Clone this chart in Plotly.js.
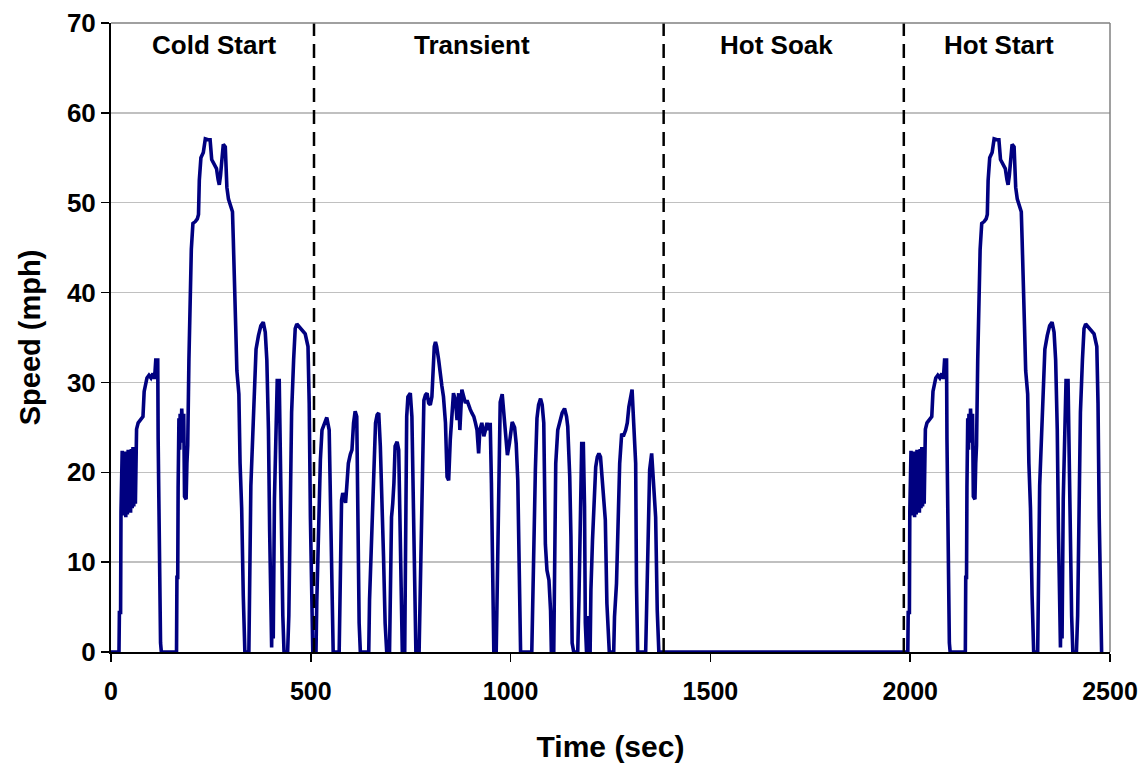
<!DOCTYPE html>
<html>
<head>
<meta charset="utf-8">
<script src="https://cdn.plot.ly/plotly-3.0.1.min.js"></script>
<style>html,body{margin:0;padding:0;background:#fff;}#chart{width:1146px;height:764px;}</style>
</head>
<body>
<div id="chart"></div>
<script>
// Cold start phase (seconds, mph)
const coldTime = [0,20,21,24,25,27,28,29,31,33,35,37,39,41,43,45,47,49,51,53,55,57,59,61,63,64,68,75,80,83,86,90,95,100,105,109,112,117,118,120,124,126,
  164,165,167,168,170,172,173,175,177,180,182,184,188,190,192,195,199,201,205,211,216,219,221,225,231,236,243,248,252,258,264,268,271,274,278,281,286,288,290,294,300,304,306,308,312,315,320,323,327,331,335,
  345,347,350,355,359,363,369,375,381,386,390,394,397,400,402,404,406,409,412,416,421,424,427,430,433,
  442,445,448,452,457,461,465,474,486,493,496,499,502,505,507];
const coldSpeed = [0,0,4.4,4.4,15.6,21.2,22.4,15.5,21.5,15.2,22.3,15,21.8,15.3,22.5,15.8,22.0,15.5,22.6,16,22.8,16.2,22.5,16.5,23,24.8,25.5,26,26.2,29,29.8,30.5,30.8,30.5,31,30.4,32.5,32.5,23.7,13.6,1,0,
  0,8.3,8.3,18.3,26,22.5,26.5,23.3,27.1,24,26.5,17.3,17,21,23,32.5,40.2,44.8,47.7,47.9,48.2,48.7,52.5,55,55.6,57.1,57.0,57,54.8,54.2,53.8,52.6,52.0,53,55.6,56.5,56.2,54.2,51.7,50.4,49.4,49,46,41.2,36.3,31.3,28.7,21,16,6.3,0,
  0,5.8,18.5,24.4,30.2,33.7,35.2,36.3,36.7,35.6,32.5,24.8,13.5,1,0.5,8,1.5,17,24.8,30.2,30.2,20,10.2,4,0,
  0,4,14.8,26.7,32.5,36,36.5,36,35.4,34,27.7,15,4,0,0];

// Transient phase
const transTime = [513,515,518,521,524,528,532,536,540,546,549,553,556,571,573,575,577,580,584,587,590,594,599,603,607,611,615,618,621,624,
  645,647,651,656,659,662,666,670,674,678,682,686,690,697,699,702,705,708,711,716,720,722,726,729,735,737,740,743,749,753,757,760,763,
  771,774,777,780,783,787,791,795,799,803,806,809,812,815,820,824,828,832,837,841,845,849,853,857,862,866,870,873,878,883,887,891,895,899,903,908,912,916,920,923,928,933,937,941,945,949,952,955,958,
  964,966,970,974,979,984,989,992,997,1004,1010,1014,1018,1022,1025,1053,1058,1062,1066,1070,1075,1079,1083,1085,1087,1091,1096,1100,1102,
  1108,1110,1113,1118,1123,1129,1135,1140,1143,1148,1151,1154,1158,1168,1171,1175,1178,1182,1185,1187,1190,1193,1195,1199,1201,1205,1209,1213,1217,1221,1225,1229,1233,1237,1241,1245,1247,
  1258,1260,1265,1269,1273,1278,1282,1288,1292,1296,1300,1304,1308,1313,1315,1318,1338,1340,1344,1348,1353,1358,1363,1367,1371,1383];
const transSpeed = [0,5.6,11,18,21.4,24.7,25.2,25.9,26.1,24.7,18,5,0,0,5,13.2,16.9,17.7,17.2,16.6,18.4,21,22,22.5,25.5,26.8,26.2,11.3,3.2,0,
  0,5.8,11,18,22.5,25.5,26.4,26.6,22.9,18,10.6,3.2,0,0,7.6,15,16.5,18.8,22.9,23.4,22.5,16.5,7.6,0,0,16.2,26.2,28.4,28.8,26.2,16.5,6.9,0,
  0,6,13.6,22,28,28.6,28.8,27.7,27.5,28.4,31.4,34,34.5,34,32.5,30.7,29.6,28.4,25.5,19.5,19.1,23.6,27,28.8,28,25.8,28.8,24.7,29.2,28.4,27.7,28,27.3,27,26.6,26.2,25.5,24.7,22.1,24.7,25.5,24,24.7,25.5,24.7,25.5,18.8,6.1,0,
  0,6.2,17.8,27.8,28.7,25.8,22.9,21.9,23.2,25.6,25,23.2,19.1,6.5,0,0,14,20.3,26,27.5,28.2,27.5,25.5,19.5,12,9.1,8,4.6,0,
  0,13.9,21,24.7,25.5,26.6,27.1,26.2,25.1,19.5,12.8,1,0,0,5.8,18,23.2,23.2,16.2,3.2,0,4,0,0,6.9,12.5,17.3,20.6,21.7,22.1,21.7,19.5,17.3,14.7,5.4,0.5,0,
  0,3.9,7.6,14.3,21,24.3,24,24.7,25.5,27.3,28.4,29.2,25.5,21,7.6,0,0,5,15,20.3,22.1,18.4,15,4.6,0,0];

// Hot start repeats the cold-start schedule after the hot soak
const hotStartOffset = 1974;
// Phase boundaries (dashed lines) and labels
const phaseBoundaries = [508, 1383, 1984];
const phaseNames = ["Cold Start", "Transient", "Hot Soak", "Hot Start"];
const phaseLabelX = [258, 904, 1666, 2222];
const xTicks = [0, 500, 1000, 1500, 2000, 2500];

const t = coldTime.concat(transTime, coldTime.map(v => v + hotStartOffset));
const s = coldSpeed.concat(transSpeed, coldSpeed);

const trace = {x: t, y: s, mode: 'lines', type: 'scatter',
  line: {color: '#000080', width: 3.6}, hoverinfo: 'skip', showlegend: false};

const shapes = phaseBoundaries.map(x => ({type: 'line', xref: 'x', yref: 'paper', x0: x, x1: x, y0: 0, y1: 1,
  line: {color: '#000000', width: 2.5, dash: '14px,8px'}}));
shapes.push({type: 'line', xref: 'paper', yref: 'paper', x0: 1, x1: 1, y0: 0, y1: 1, line: {color: '#808080', width: 1.5}});
shapes.push({type: 'line', xref: 'paper', yref: 'paper', x0: 0, x1: 1, y0: 1, y1: 1, line: {color: '#808080', width: 1.5}});

const annotations = phaseNames.map((n, i) => ({x: phaseLabelX[i], y: 67.5, xref: 'x', yref: 'y', text: n, showarrow: false,
  font: {family: 'Liberation Sans, Arial, sans-serif', size: 26, color: '#000', weight: 700}, xanchor: 'center', yanchor: 'middle'}));

const layout = {
  width: 1146, height: 764,
  margin: {l: 111, r: 36, t: 23, b: 112, pad: 0},
  paper_bgcolor: '#fff', plot_bgcolor: '#fff',
  font: {family: 'Liberation Sans, Arial, sans-serif', color: '#000'},
  xaxis: {range: [0, 2500], tickvals: xTicks, showgrid: false, zeroline: false, showline: true, linecolor: '#000', linewidth: 2,
    ticks: 'outside', ticklen: 8, tickwidth: 1.5, tickcolor: '#000', tickfont: {size: 25, weight: 700}, ticklabelstandoff: 8,
    title: {text: 'Time (sec)', font: {size: 30, weight: 700}, standoff: 32}, automargin: false},
  yaxis: {range: [0, 70], dtick: 10, showgrid: true, gridcolor: '#c0c0c0', gridwidth: 1.3, zeroline: false, showline: true,
    linecolor: '#000', linewidth: 2, ticks: 'outside', ticklen: 8, tickwidth: 1.5, tickcolor: '#000', tickfont: {size: 26, weight: 700},
    title: {text: 'Speed (mph)', font: {size: 29, weight: 700}, standoff: 18}, automargin: false},
  shapes: shapes,
  annotations: annotations
};

Plotly.newPlot('chart', [trace], layout, {displayModeBar: false, staticPlot: true});
</script>
</body>
</html>
